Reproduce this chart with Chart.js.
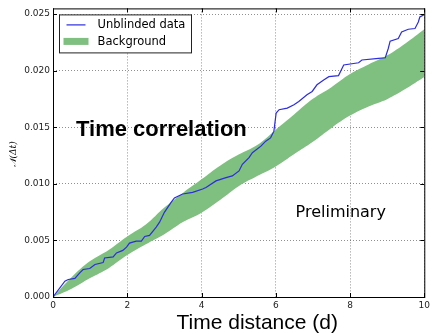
<!DOCTYPE html>
<html>
<head>
<meta charset="utf-8">
<script src="https://cdn.jsdelivr.net/npm/chart.js@4.4.1/dist/chart.umd.min.js"></script>
<style>
  html, body { margin: 0; padding: 0; background: #fff; }
  canvas { display: block; }
</style>
</head>
<body>
<canvas id="chart" width="433" height="334"></canvas>
<script>
// unblinded cumulative distribution
const dataX = [0, 0.32, 0.41, 0.59, 0.72, 0.81, 0.99, 1.13, 1.35, 1.39, 1.62, 1.71, 1.88, 1.98, 2.06, 2.24,
  2.38, 2.47, 2.60, 2.78, 2.87, 3.00, 3.18, 3.27, 3.49, 3.76, 4.03, 4.12, 4.39, 4.66, 4.83, 5.01,
  5.10, 5.28, 5.37, 5.60, 5.73, 5.86, 5.95, 6.01, 6.09, 6.31, 6.49, 6.62, 6.84, 6.98, 7.11, 7.29,
  7.43, 7.69, 7.83, 8.23, 8.32, 8.77, 8.95, 9.03, 9.08, 9.30, 9.39, 9.57, 9.75, 9.84, 9.88, 9.97, 10];
const dataY = [0, 0.00140, 0.00155, 0.00164, 0.00213, 0.00243, 0.00252, 0.00287, 0.00304, 0.00345, 0.00354,
  0.00389, 0.00412, 0.00441, 0.00476, 0.00494, 0.00494, 0.00535, 0.00544, 0.00617, 0.00661, 0.00748,
  0.00836, 0.00875, 0.00910, 0.00924, 0.00954, 0.00968, 0.01026, 0.01055, 0.01070, 0.01114, 0.01173,
  0.01231, 0.01275, 0.01333, 0.01377, 0.01406, 0.01465, 0.01625, 0.01655, 0.01669, 0.01699, 0.01728,
  0.01787, 0.01816, 0.01875, 0.01918, 0.01947, 0.01956, 0.02050, 0.02070, 0.02094, 0.02108, 0.02114,
  0.02196, 0.02261, 0.02284, 0.02342, 0.02366, 0.02372, 0.02430, 0.02474, 0.02489, 0.02500];

// background expectation band
const bandX = [0, 0.5, 1, 1.5, 2, 2.5, 3, 3.5, 4, 4.5, 5, 5.5, 6, 6.5, 7, 7.5, 8, 8.5, 9, 9.5, 10];
const bandLow = [0, 0.00073, 0.00167, 0.00255, 0.00370, 0.00465, 0.00554, 0.00662, 0.00745, 0.00857,
  0.00979, 0.01069, 0.01154, 0.01263, 0.01372, 0.01494, 0.01603, 0.01684, 0.01748, 0.01839, 0.01943];
const bandHigh = [0, 0.00175, 0.00317, 0.00416, 0.00535, 0.00640, 0.00790, 0.00920, 0.01040, 0.01160,
  0.01258, 0.01342, 0.01478, 0.01615, 0.01751, 0.01854, 0.01970, 0.02055, 0.02135, 0.02243, 0.02366];

const xTicks = [0, 2, 4, 6, 8, 10];
const yTicks = [0, 0.005, 0.010, 0.015, 0.020, 0.025];

const pts = (xs, ys) => xs.map((x, i) => ({ x: x, y: ys[i] }));

const lineBlue = "#2c2ce0";
const bandGreen = "#7fbf7f";

// axes frame with inward ticks, like a matplotlib box
const framePlugin = {
  id: "frame",
  afterDraw(chart) {
    const { ctx, chartArea: a, scales } = chart;
    ctx.save();
    ctx.strokeStyle = "#000";
    ctx.lineWidth = 1;
    ctx.strokeRect(a.left + 0.5, a.top + 0.5, a.right - a.left, a.bottom - a.top);
    ctx.beginPath();
    for (const v of xTicks) {
      const px = Math.round(scales.x.getPixelForValue(v)) + 0.5;
      ctx.moveTo(px, a.bottom); ctx.lineTo(px, a.bottom - 4);
      ctx.moveTo(px, a.top); ctx.lineTo(px, a.top + 4);
    }
    for (const v of yTicks) {
      const py = Math.round(scales.y.getPixelForValue(v)) + 0.5;
      ctx.moveTo(a.left, py); ctx.lineTo(a.left + 4, py);
      ctx.moveTo(a.right, py); ctx.lineTo(a.right - 4, py);
    }
    ctx.stroke();
    ctx.restore();
  }
};

// framed legend in the upper left corner of the axes
const boxLegend = {
  id: "boxLegend",
  afterDraw(chart) {
    const { ctx, chartArea: a } = chart;
    const x = a.left + 6.5, y = a.top + 6.5, w = 132, h = 38;
    ctx.save();
    ctx.fillStyle = "#fff";
    ctx.fillRect(x, y, w, h);
    ctx.strokeStyle = "#222";
    ctx.lineWidth = 1;
    ctx.strokeRect(x, y, w, h);

    ctx.font = "11.5px 'DejaVu Sans'";
    ctx.fillStyle = "#000";
    ctx.textBaseline = "middle";
    const ds = chart.data.datasets;

    ctx.strokeStyle = ds[0].borderColor;
    ctx.lineWidth = 1.2;
    ctx.beginPath();
    ctx.moveTo(x + 7, y + 10); ctx.lineTo(x + 26, y + 10);
    ctx.stroke();
    ctx.fillText(ds[0].label, x + 38, y + 10);

    ctx.fillStyle = ds[2].backgroundColor;
    ctx.fillRect(x + 4, y + 23, 25, 7);
    ctx.fillStyle = "#000";
    ctx.fillText(ds[2].label, x + 38, y + 27);
    ctx.restore();
  }
};

// axis titles and free text placed in data coordinates
const textPlugin = {
  id: "texts",
  afterDraw(chart) {
    const { ctx, scales } = chart;
    const X = (v) => scales.x.getPixelForValue(v);
    const Y = (v) => scales.y.getPixelForValue(v);
    ctx.save();
    ctx.fillStyle = "#000";
    ctx.textBaseline = "alphabetic";

    ctx.font = "bold 22px 'Liberation Sans'";
    ctx.textAlign = "left";
    ctx.fillText("Time correlation", X(0.62), Y(0.0142));

    ctx.font = "16px 'DejaVu Sans'";
    ctx.textAlign = "center";
    ctx.textBaseline = "middle";
    ctx.fillText("Preliminary", X(7.75), Y(0.0074));

    ctx.font = "21px 'Liberation Sans'";
    ctx.fillText("Time distance (d)", X(5.5), 323);

    ctx.translate(14, Y(0.0126));
    ctx.rotate(-Math.PI / 2);
    ctx.font = "italic 9px 'DejaVu Serif'";
    ctx.fillText("\u{1D4A9}(\u0394t)", 0, 0);
    ctx.restore();
  }
};

new Chart(document.getElementById("chart"), {
  type: "line",
  data: {
    datasets: [
      {
        label: "Unblinded data",
        data: pts(dataX, dataY),
        borderColor: lineBlue,
        borderWidth: 1.2,
        pointRadius: 0,
        fill: false,
        tension: 0,
      },
      {
        label: "",
        data: pts(bandX, bandLow),
        borderWidth: 0,
        borderColor: "rgba(0,0,0,0)",
        pointRadius: 0,
        fill: false,
        tension: 0.4,
      },
      {
        label: "Background",
        data: pts(bandX, bandHigh),
        borderWidth: 0,
        borderColor: "rgba(0,0,0,0)",
        backgroundColor: bandGreen,
        pointRadius: 0,
        fill: "-1",
        tension: 0.4,
      },
    ],
  },
  options: {
    responsive: false,
    devicePixelRatio: 1,
    animation: false,
    layout: { padding: { top: 6, right: 7, left: 0, bottom: 0 } },
    plugins: {
      legend: { display: false },
      tooltip: { enabled: false },
    },
    scales: {
      x: {
        type: "linear",
        min: 0,
        max: 10,
        afterBuildTicks: (s) => { s.ticks = xTicks.map((v) => ({ value: v })); },
        afterFit: (s) => { s.height = 37; },
        ticks: {
          color: "#222",
          font: { family: "DejaVu Sans", size: 9 },
          padding: 3,
          maxRotation: 0,
        },
        grid: { color: "rgba(0,0,0,0.55)", lineWidth: 0.8, drawTicks: false },
        border: { display: false, dash: [1, 2] },
      },
      y: {
        type: "linear",
        min: 0,
        max: 0.0255,
        afterBuildTicks: (s) => { s.ticks = yTicks.map((v) => ({ value: v })); },
        afterFit: (s) => { s.width = 53; },
        ticks: {
          color: "#222",
          font: { family: "DejaVu Sans", size: 9 },
          padding: 3,
          callback: (v) => v.toFixed(3),
        },
        grid: { color: "rgba(0,0,0,0.55)", lineWidth: 0.8, drawTicks: false },
        border: { display: false, dash: [1, 2] },
      },
    },
  },
  plugins: [framePlugin, boxLegend, textPlugin],
});
</script>
</body>
</html>
